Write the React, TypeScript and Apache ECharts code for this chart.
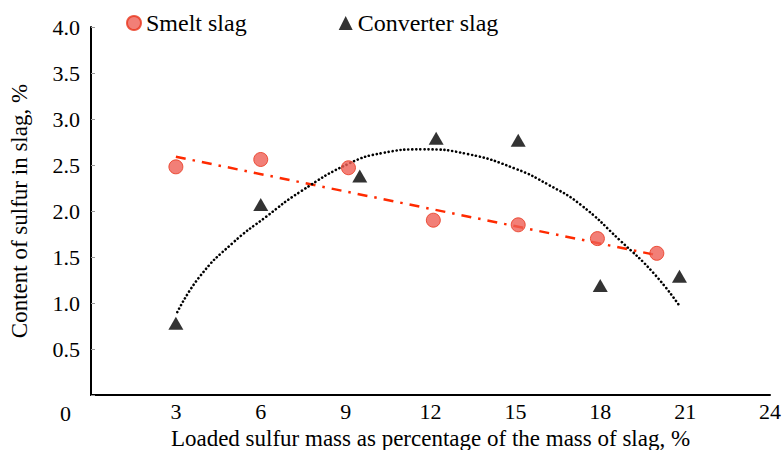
import React, { useEffect, useRef } from "react";
import * as echarts from "echarts";

const xTicks = [0, 3, 6, 9, 12, 15, 18, 21, 24];
const yTicks = [0, 0.5, 1.0, 1.5, 2.0, 2.5, 3.0, 3.5, 4.0];

const smeltSlag: [number, number][] = [
  [3, 2.48], [6, 2.56], [9.1, 2.47], [12.1, 1.9], [15.1, 1.85], [17.9, 1.7], [20, 1.54],
];
const converterSlag: [number, number][] = [
  [3, 0.78], [6, 2.07], [9.5, 2.38], [12.2, 2.79], [15.1, 2.77], [18, 1.19], [20.8, 1.29],
];
const smeltTrend: [number, number][] = [
  [3, 2.59], [20, 1.52],
];
const converterTrend: [number, number][] = [
  [3.05, 0.9], [3.85, 1.29], [5.0, 1.65], [6.2, 1.94], [7.4, 2.21], [9.15, 2.52],
  [10.3, 2.63], [11.7, 2.67], [13.3, 2.62], [15.0, 2.46], [16.2, 2.28], [17.3, 2.07],
  [18.7, 1.68], [19.9, 1.32], [20.8, 0.97],
];

const FONT = "Liberation Serif";

export default function App() {
  const ref = useRef<HTMLDivElement>(null);
  useEffect(() => {
    if (!ref.current) return;
    const chart = echarts.init(ref.current, undefined, { renderer: "svg" });
    chart.setOption({
      animation: false,
      backgroundColor: "#ffffff",
      textStyle: { fontFamily: FONT },
      legend: {
        data: [
          { name: "Smelt slag", icon: "circle" },
          { name: "Converter slag", icon: "triangle" },
        ],
        left: 121,
        top: 6,
        itemWidth: 14,
        itemHeight: 14,
        itemGap: 92,
        textStyle: { fontFamily: FONT, fontSize: 24, color: "#000" },
      },
      grid: { left: 91, right: 13, top: 27, bottom: 55, containLabel: false, outerBoundsMode: "none" },
      xAxis: {
        type: "value",
        min: xTicks[0],
        max: xTicks[xTicks.length - 1],
        interval: 3,
        name: "Loaded sulfur mass as percentage of the mass of slag, %",
        nameLocation: "middle",
        nameGap: 28,
        nameTextStyle: { fontFamily: FONT, fontSize: 23, color: "#000" },
        axisLine: { show: true, onZero: false, lineStyle: { color: "#000", width: 2 } },
        axisTick: { show: false },
        splitLine: { show: false },
        axisLabel: {
          fontFamily: FONT,
          fontSize: 22,
          color: "#000",
          margin: 5,
          formatter: (v: number) => (v === 0 ? "" : String(v)),
        },
      },
      yAxis: {
        type: "value",
        min: yTicks[0],
        max: yTicks[yTicks.length - 1],
        interval: 0.5,
        name: "Content of sulfur in slag, %",
        nameLocation: "middle",
        nameGap: 60,
        nameTextStyle: { fontFamily: FONT, fontSize: 23, color: "#000" },
        axisLine: { show: true, onZero: false, lineStyle: { color: "#000", width: 2 } },
        axisTick: { show: true, inside: true, length: 4, lineStyle: { color: "#999", width: 1 } },
        splitLine: { show: false },
        axisLabel: {
          fontFamily: FONT,
          fontSize: 22,
          color: "#000",
          margin: 11,
          formatter: (v: number) => (v === 0 ? "" : v.toFixed(1)),
        },
      },
      graphic: [
        {
          type: "text",
          left: 60,
          top: 402,
          style: { text: "0", font: `22px ${FONT}`, fill: "#000" },
        },
      ],
      series: [
        {
          name: "Smelt trend",
          type: "line",
          data: smeltTrend,
          symbol: "none",
          z: 1,
          lineStyle: { color: "#ff2a00", width: 2.5, type: [10, 7, 2.5, 7] },
        },
        {
          name: "Converter trend",
          type: "line",
          data: converterTrend,
          smooth: true,
          symbol: "none",
          z: 1,
          lineStyle: { color: "#000", width: 2.6, type: [0.1, 3.9], cap: "round" },
        },
        {
          name: "Smelt slag",
          type: "scatter",
          data: smeltSlag,
          symbol: "circle",
          symbolSize: 14,
          z: 3,
          itemStyle: { color: "#ef5f55", borderColor: "#e8341c", borderWidth: 1 },
        },
        {
          name: "Converter slag",
          type: "scatter",
          data: converterSlag,
          symbol: "triangle",
          symbolSize: [15, 13],
          z: 3,
          itemStyle: { color: "#000" },
        },
      ],
    });
    return () => chart.dispose();
  }, []);
  return <div ref={ref} style={{ width: 783, height: 450, position: "absolute", left: 0, top: 0 }} />;
}
